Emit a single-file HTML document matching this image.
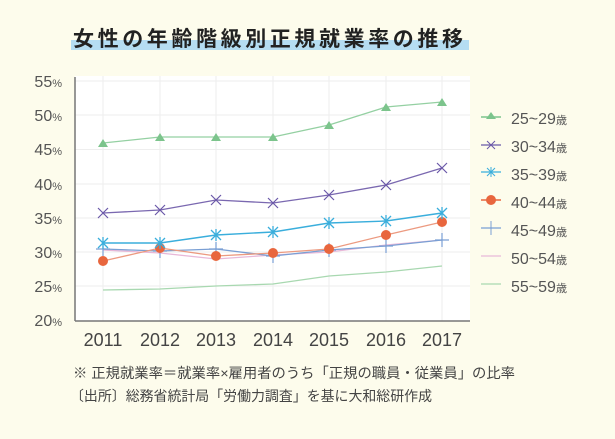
<!DOCTYPE html><html><head><meta charset="utf-8"><style>
body{margin:0;background:#fdfcec;}
svg{display:block;font-family:"Liberation Sans","Noto Sans CJK JP",sans-serif;}
</style></head><body>
<svg width="615" height="439" viewBox="0 0 615 439">
<rect width="615" height="439" fill="#fdfcec"/>
<rect x="71" y="40" width="398" height="10" fill="#b5ddf2"/>
<text x="73" y="46" font-size="21" font-weight="bold" fill="#222" font-family="Noto Sans CJK JP,sans-serif" letter-spacing="3.6">女性の年齢階級別正規就業率の推移</text>
<rect x="75" y="76" width="395" height="245" fill="#fff"/>
<g stroke="#eee" stroke-width="1">
<line x1="75" y1="81" x2="470" y2="81"/><line x1="75" y1="115" x2="470" y2="115"/><line x1="75" y1="149.5" x2="470" y2="149.5"/><line x1="75" y1="184" x2="470" y2="184"/><line x1="75" y1="218" x2="470" y2="218"/><line x1="75" y1="252" x2="470" y2="252"/><line x1="75" y1="286" x2="470" y2="286"/>
<line x1="103" y1="76" x2="103" y2="321"/><line x1="160" y1="76" x2="160" y2="321"/><line x1="216" y1="76" x2="216" y2="321"/><line x1="273" y1="76" x2="273" y2="321"/><line x1="329" y1="76" x2="329" y2="321"/><line x1="386" y1="76" x2="386" y2="321"/><line x1="442" y1="76" x2="442" y2="321"/>
</g>
<line x1="75" y1="77" x2="75" y2="321" stroke="#777" stroke-width="1.5"/>
<line x1="75" y1="321" x2="470" y2="321" stroke="#777" stroke-width="1.5"/>
<g font-size="16" fill="#555" text-anchor="end">
<text x="62" y="87">55<tspan font-size="11">%</tspan></text><text x="62" y="121">50<tspan font-size="11">%</tspan></text><text x="62" y="155">45<tspan font-size="11">%</tspan></text><text x="62" y="190">40<tspan font-size="11">%</tspan></text><text x="62" y="224">35<tspan font-size="11">%</tspan></text><text x="62" y="258">30<tspan font-size="11">%</tspan></text><text x="62" y="292">25<tspan font-size="11">%</tspan></text><text x="62" y="326">20<tspan font-size="11">%</tspan></text>
</g>
<g font-size="18" fill="#444" text-anchor="middle">
<text x="103" y="346">2011</text><text x="160" y="346">2012</text><text x="216" y="346">2013</text><text x="273" y="346">2014</text><text x="329" y="346">2015</text><text x="386" y="346">2016</text><text x="442" y="346">2017</text>
</g>
<polyline fill="none" stroke="#a8d8b0" stroke-width="1.3" points="103,290 160,289 216,286 273,284 329,276 386,272 442,266"/>
<polyline fill="none" stroke="#e8b8d8" stroke-width="1.3" points="103,250 160,253 216,259 273,255 329,252 386,245 442,240"/>
<polyline fill="none" stroke="#7a9fd4" stroke-width="1.3" points="103,249 160,251 216,249 273,256 329,250 386,246 442,240"/>
<g stroke="#7a9fd4" stroke-width="1.2"><path d="M96,249h14M103,242v14M153,251h14M160,244v14M209,249h14M216,242v14M266,256h14M273,249v14M322,250h14M329,243v14M379,246h14M386,239v14M435,240h14M442,233v14"/></g>
<polyline fill="none" stroke="#ec9a80" stroke-width="1.3" points="103,261 160,248 216,256 273,253 329,249 386,235 442,222"/>
<g fill="#e8663e"><circle cx="103" cy="261" r="5"/><circle cx="160" cy="248" r="5"/><circle cx="216" cy="256" r="5"/><circle cx="273" cy="253" r="5"/><circle cx="329" cy="249" r="5"/><circle cx="386" cy="235" r="5"/><circle cx="442" cy="222" r="5"/></g>
<polyline fill="none" stroke="#3aaedc" stroke-width="1.4" points="103,243 160,243 216,235 273,232 329,223 386,221 442,213"/>
<g stroke="#3aaedc" stroke-width="1.3"><path d="M98,238l10,10M108,238l-10,10M103,237v12M155,238l10,10M165,238l-10,10M160,237v12M211,230l10,10M221,230l-10,10M216,229v12M268,227l10,10M278,227l-10,10M273,226v12M324,218l10,10M334,218l-10,10M329,217v12M381,216l10,10M391,216l-10,10M386,215v12M437,208l10,10M447,208l-10,10M442,207v12"/></g>
<polyline fill="none" stroke="#7a68b0" stroke-width="1.3" points="103,213 160,210 216,200 273,203 329,195 386,185 442,168"/>
<g stroke="#6a58a8" stroke-width="1.2"><path d="M98,208l10,10M108,208l-10,10M155,205l10,10M165,205l-10,10M211,195l10,10M221,195l-10,10M268,198l10,10M278,198l-10,10M324,190l10,10M334,190l-10,10M381,180l10,10M391,180l-10,10M437,163l10,10M447,163l-10,10"/></g>
<polyline fill="none" stroke="#94d0a2" stroke-width="1.3" points="103,143 160,137 216,137 273,137 329,125 386,107 442,102"/>
<g fill="#7cc48c"><path d="M103,139l5,8h-10z"/><path d="M160,133l5,8h-10z"/><path d="M216,133l5,8h-10z"/><path d="M273,133l5,8h-10z"/><path d="M329,121l5,8h-10z"/><path d="M386,103l5,8h-10z"/><path d="M442,98l5,8h-10z"/></g>
<g font-size="16" fill="#555">
<line x1="481" y1="117" x2="501" y2="117" stroke="#7cc48c" stroke-width="1.5"/><path d="M491,112l5,7h-10z" fill="#7cc48c"/>
<text x="511" y="124">25~29<tspan font-size="11">歳</tspan></text>
<line x1="481" y1="145" x2="501" y2="145" stroke="#6a58a8" stroke-width="1.3"/><path d="M487,141l8,8M495,141l-8,8" stroke="#6a58a8"/>
<text x="511" y="152">30~34<tspan font-size="11">歳</tspan></text>
<line x1="481" y1="172" x2="501" y2="172" stroke="#3aaedc" stroke-width="1.3"/><path d="M487,168l8,8M495,168l-8,8M491,167v10" stroke="#3aaedc"/>
<text x="511" y="180">35~39<tspan font-size="11">歳</tspan></text>
<line x1="481" y1="200" x2="501" y2="200" stroke="#e8663e" stroke-width="1.5"/><circle cx="491" cy="200" r="5" fill="#e8663e"/>
<text x="511" y="208">40~44<tspan font-size="11">歳</tspan></text>
<line x1="481" y1="228" x2="501" y2="228" stroke="#7a9fd4" stroke-width="1.3"/><path d="M491,221v14" stroke="#7a9fd4"/>
<text x="511" y="236">45~49<tspan font-size="11">歳</tspan></text>
<line x1="481" y1="256" x2="501" y2="256" stroke="#e8b8d8" stroke-width="1.3"/>
<text x="511" y="264">50~54<tspan font-size="11">歳</tspan></text>
<line x1="481" y1="284" x2="501" y2="284" stroke="#a8d8b0" stroke-width="1.3"/>
<text x="511" y="292">55~59<tspan font-size="11">歳</tspan></text>
</g>
<g font-size="14" fill="#444">
<text x="73" y="378" textLength="442" lengthAdjust="spacingAndGlyphs">※ 正規就業率＝就業率×雇用者のうち「正規の職員・従業員」の比率</text>
<text x="70" y="401" textLength="362" lengthAdjust="spacingAndGlyphs">〔出所〕総務省統計局「労働力調査」を基に大和総研作成</text>
</g>
</svg>
</body></html>
